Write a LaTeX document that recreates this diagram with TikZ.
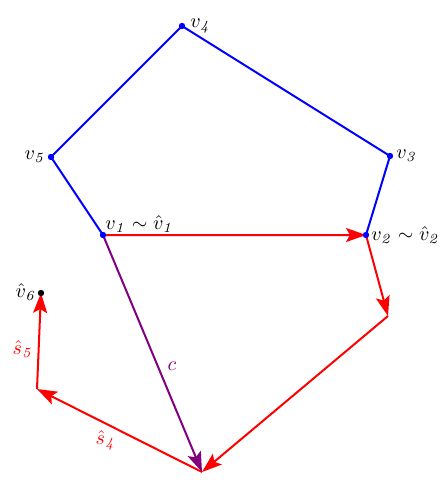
\documentclass[tikz,border=0pt]{standalone}
\usepackage{amssymb}
\usepackage{amsmath}
\usepackage{xcolor}
\usetikzlibrary{arrows.meta}

\definecolor{vpurple}{RGB}{128,0,128}
\tikzset{
  edge/.style={blue, line width=1pt},
  step arrow/.style={red, line width=1pt, -{Stealth[length=10pt,width=7pt,inset=2pt]}},
  dot/.style={circle, fill=#1, inner sep=0pt, minimum size=3.2pt},
  lbl/.style={font=\normalsize, inner sep=1pt}
}

\begin{document}
\begin{tikzpicture}[x=0.5pt,y=-0.5pt]
\useasboundingbox (0,0) rectangle (443,483);

\coordinate (v1) at (103,235);
\coordinate (v2) at (366,235);
\coordinate (v3) at (390,156);
\coordinate (v4) at (182,26);
\coordinate (v5) at (51,157);
\coordinate (p1) at (388,316);
\coordinate (p2) at (202,472);
\coordinate (p3) at (37,389);
\coordinate (v6) at (41,293);

% pentagon
\draw[edge] (v1) -- (v2) -- (v3) -- (v4) -- (v5) -- cycle;

% the steps
\draw[step arrow] (v1) -- (v2);
\draw[step arrow] (v2) -- (p1);
\draw[step arrow] (p1) -- (p2);
\draw[step arrow] (p2) -- (p3);
\draw[step arrow] (p3) -- (v6);

\draw[vpurple, line width=1pt, -{Stealth[length=10pt,width=7pt,inset=2pt]}] (v1) -- (p2);

\foreach \v in {v1,v2,v3,v4,v5}
  \node[dot=blue] at (\v) {};
\node[dot=black] at (v6) {};

\node[lbl, anchor=south west] (l1) at (v1) {$v_{\mathit{1}}\sim\hat v_{\mathit{1}}$};
\node[lbl, anchor=west, xshift=1.5pt] (l2) at (v2) {$v_{\mathit{2}}\sim\hat v_{\mathit{2}}$};
\node[lbl, anchor=west, xshift=2pt] (l3) at (v3) {$v_{\mathit{3}}$};
\node[lbl, anchor=south west, xshift=3pt, yshift=-5pt] (l4) at (v4) {$v_{\mathit{4}}$};
\node[lbl, anchor=east, xshift=-1.5pt] (l5) at (v5) {$v_{\mathit{5}}$};
\node[lbl, anchor=south east, xshift=-1pt, yshift=-5pt] (l6) at (v6) {$\hat v_{\mathit{6}}$};
\node[lbl, red] (s4) at (106,440) {$\hat s_{\mathit{4}}$};
\node[lbl, red] (s5) at (23,349) {$\hat s_{\mathit{5}}$};
\node[lbl, vpurple] (c) at (172,366) {$c$};

\end{tikzpicture}
\end{document}
